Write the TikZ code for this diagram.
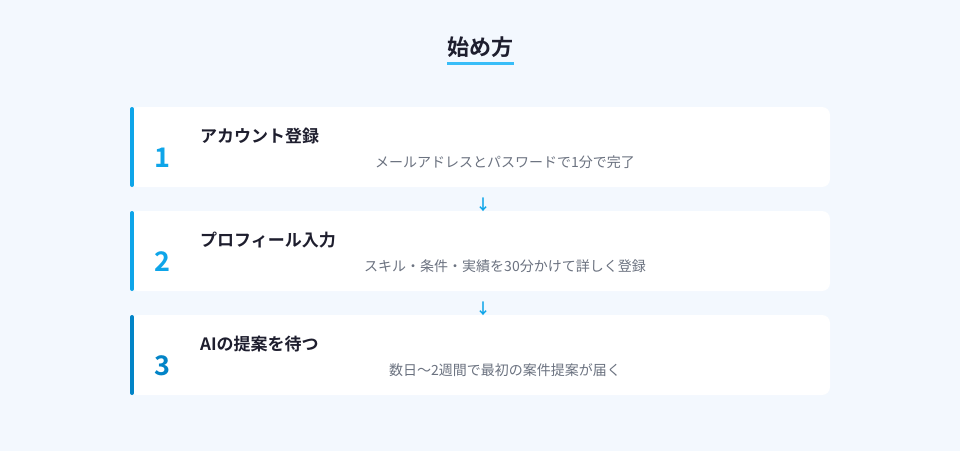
\documentclass[tikz,border=0pt]{standalone}
\usepackage{fontspec}
\setmainfont{Noto Sans CJK JP}[BoldFont={Noto Sans CJK JP Bold}]
\definecolor{bgc}{HTML}{F3F8FE}
\definecolor{accent}{HTML}{0EA5E9}
\definecolor{accentdark}{HTML}{0284C7}
\definecolor{titlec}{HTML}{1E1E2E}
\definecolor{descc}{HTML}{6B7280}
\definecolor{ulc}{HTML}{38BDF8}
\tikzset{
  card/.style={fill=white, rounded corners=8pt, draw=none},
  bar/.style={line width=4pt, line cap=round},
  num/.style={font=\bfseries\fontsize{27}{30}\selectfont, anchor=center},
  steptitle/.style={font=\bfseries\fontsize{17}{20}\selectfont, text=titlec, anchor=west, inner sep=0pt},
  desc/.style={font=\fontsize{14}{17}\selectfont, text=descc, anchor=center},
  downarrow/.style={font=\bfseries\fontsize{15}{17}\selectfont, text=accent, anchor=center},
}
\begin{document}
\begin{tikzpicture}[x=1pt,y=-1pt]
\fill[bgc] (0,0) rectangle (960,451);
\useasboundingbox (0,0) rectangle (960,451);
\node[font=\bfseries\fontsize{22}{26}\selectfont, text=titlec] (title) at (480.5,47) {始め方};
\fill[ulc] (447,62) rectangle (514,65);
% cards
\foreach \i/\y/\c in {1/107/accent, 2/211/accent, 3/315/accentdark}{
  \fill[card] (130,\y) rectangle (830,\y+80);
  \draw[bar,\c] (132,\y+2) -- (132,\y+78);
}
\node[num, text=accent] (n1) at (162,158) {1};
\node[steptitle] (t1) at (200,136) {アカウント登録};
\node[desc] (d1) at (505,162) {メールアドレスとパスワードで1分で完了};
\node[num, text=accent] (n2) at (162,262) {2};
\node[steptitle] (t2) at (200,240) {プロフィール入力};
\node[desc] (d2) at (505,266) {スキル・条件・実績を30分かけて詳しく登録};
\node[num, text=accentdark] (n3) at (162,366) {3};
\node[steptitle] (t3) at (200,344) {AIの提案を待つ};
\node[desc] (d3) at (505,370) {数日〜2週間で最初の案件提案が届く};
\node[downarrow] (a1) at (483,205) {↓};
\node[downarrow] (a2) at (483,309) {↓};
\end{tikzpicture}
\end{document}
